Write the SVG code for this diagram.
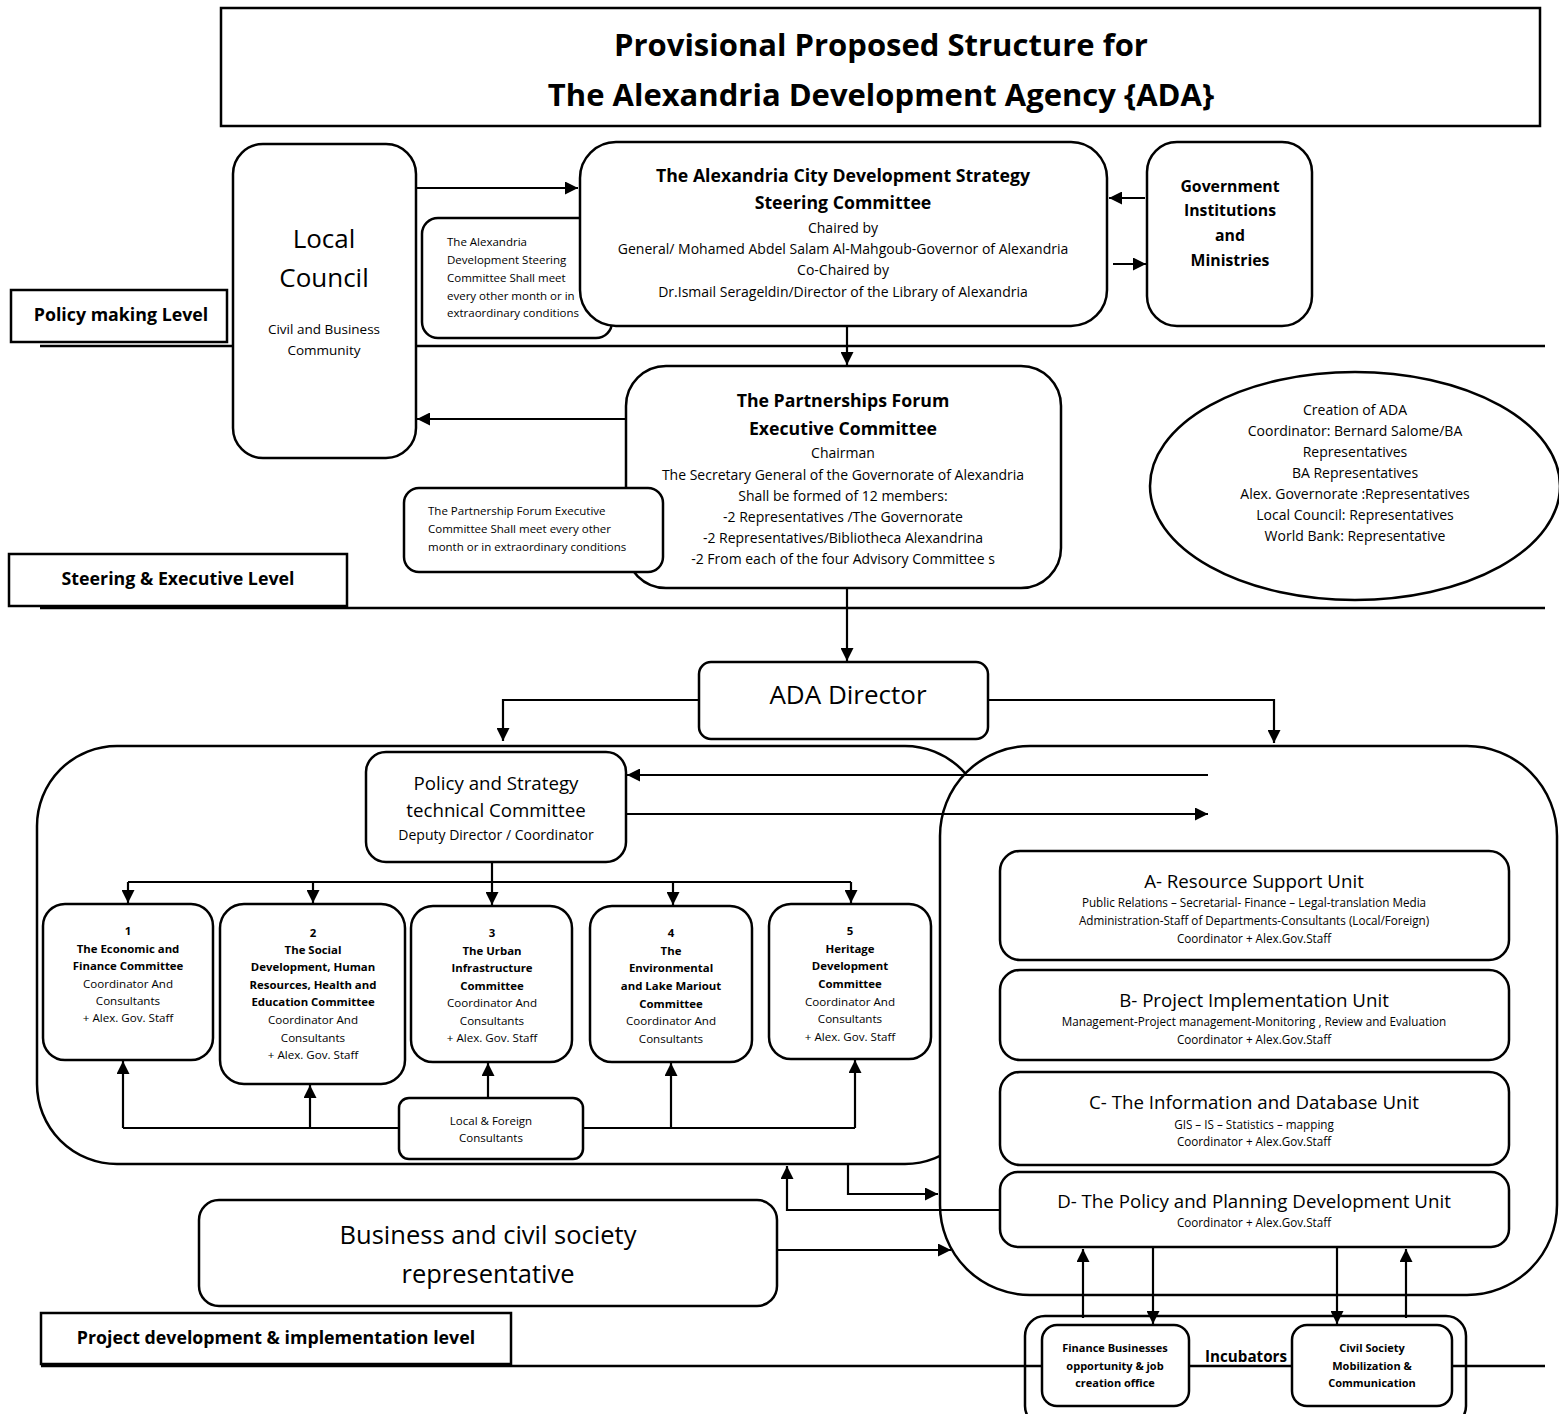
<svg xmlns="http://www.w3.org/2000/svg" width="1559" height="1414" viewBox="0 0 1559 1414">
  <defs>
    <marker id="arrow" viewBox="0 0 10 10" refX="10" refY="5" markerWidth="13" markerHeight="13" markerUnits="userSpaceOnUse" orient="auto">
      <path d="M0,0 L10,5 L0,10 z" fill="#000"/>
    </marker>
    <style>
      .box { fill: #fff; stroke: #000; stroke-width: 2.5; }
      .open { fill: none; stroke: #000; stroke-width: 2.5; }
      .level { stroke: #000; stroke-width: 2.5; fill: none; }
      .conn { fill: none; stroke: #000; stroke-width: 2.2; }
      .conn-a { fill: none; stroke: #000; stroke-width: 2.2; marker-end: url(#arrow); }
      text { font-family: "Open Sans", "Liberation Sans", sans-serif; fill: #000; text-anchor: middle; }
      .title { font-size: 31px; font-weight: bold; }
      .hb { font-size: 17.7px; font-weight: bold; }
      .body { font-size: 14px; }
      .note { font-size: 11.5px; text-anchor: start; }
      .lvl { font-size: 17.8px; font-weight: bold; }
      .big { font-size: 26px; }
      .cb { font-size: 11.4px; font-weight: bold; }
      .cn { font-size: 11.6px; }
      .unit { font-size: 18.7px; }
      .us { font-size: 11.7px; }
      .inc { font-size: 11px; font-weight: bold; }
      .ell { font-size: 14px; }
    </style>
  </defs>

  <!-- level separator lines -->
  <g id="levels">
    <line class="level" x1="40" y1="346" x2="1545" y2="346"/>
    <line class="level" x1="40" y1="608" x2="1545" y2="608"/>
    <line class="level" x1="41" y1="1366" x2="1545" y2="1366"/>
  </g>

  <g id="title">
    <rect x="221" y="8" width="1319" height="118" fill="#fff" stroke="#000" stroke-width="2.5"/>
    <text class="title" x="881" y="56">Provisional Proposed Structure for</text>
    <text class="title" x="881" y="106">The Alexandria Development Agency {ADA}</text>
  </g>

  <g id="label-policy">
    <rect x="11" y="290" width="216" height="52" class="box"/>
    <text class="lvl" x="121" y="321">Policy making Level</text>
  </g>
  <g id="label-steering">
    <rect x="9" y="554" width="338" height="52" class="box"/>
    <text class="lvl" x="178" y="585">Steering &amp; Executive Level</text>
  </g>
  <g id="label-project">
    <rect x="41" y="1313" width="470" height="51" class="box"/>
    <text class="lvl" x="276" y="1344">Project development &amp; implementation level</text>
  </g>

  <g id="local-council">
    <rect x="233" y="144" width="183" height="314" rx="30" class="box"/>
    <text class="big" x="324" y="248">Local</text>
    <text class="big" x="324" y="287">Council</text>
    <text style="font-size:13.5px" x="324" y="334">Civil and Business</text>
    <text style="font-size:13.5px" x="324" y="355">Community</text>
  </g>

  <g id="steering-note">
    <rect x="422" y="218" width="190" height="120" rx="16" class="box"/>
    <text class="note" x="447" y="246">The Alexandria</text>
    <text class="note" x="447" y="264">Development Steering</text>
    <text class="note" x="447" y="282">Committee Shall meet</text>
    <text class="note" x="447" y="300">every other month or in</text>
    <text class="note" x="447" y="317">extraordinary conditions</text>
  </g>

  <g id="steering-committee">
    <rect x="580" y="142" width="527" height="184" rx="36" class="box"/>
    <text class="hb" x="843" y="182">The Alexandria City Development Strategy</text>
    <text class="hb" x="843" y="209">Steering Committee</text>
    <text class="body" x="843" y="233">Chaired by</text>
    <text class="body" x="843" y="254">General/ Mohamed Abdel Salam Al-Mahgoub-Governor of Alexandria</text>
    <text class="body" x="843" y="275">Co-Chaired by</text>
    <text class="body" x="843" y="297">Dr.Ismail Serageldin/Director of the Library of Alexandria</text>
  </g>

  <g id="government">
    <rect x="1147" y="142" width="165" height="184" rx="30" class="box"/>
    <text class="hb" style="font-size:15.8px" x="1230" y="192">Government</text>
    <text class="hb" style="font-size:15.8px" x="1230" y="216">Institutions</text>
    <text class="hb" style="font-size:15.8px" x="1230" y="241">and</text>
    <text class="hb" style="font-size:15.8px" x="1230" y="266">Ministries</text>
  </g>

  <g id="partnerships-forum">
    <rect x="626" y="366" width="435" height="222" rx="40" class="box"/>
    <text class="hb" x="843" y="407">The Partnerships Forum</text>
    <text class="hb" x="843" y="435">Executive Committee</text>
    <text class="body" x="843" y="458">Chairman</text>
    <text class="body" x="843" y="480">The Secretary General of the Governorate of Alexandria</text>
    <text class="body" x="843" y="501">Shall be formed of 12 members:</text>
    <text class="body" x="843" y="522">-2 Representatives /The Governorate</text>
    <text class="body" x="843" y="543">-2 Representatives/Bibliotheca Alexandrina</text>
    <text class="body" x="843" y="564">-2 From each of the four Advisory Committee s</text>
  </g>

  <g id="forum-note">
    <rect x="404" y="488" width="259" height="84" rx="15" class="box"/>
    <text class="note" x="428" y="515">The Partnership Forum Executive</text>
    <text class="note" x="428" y="533">Committee Shall meet every other</text>
    <text class="note" x="428" y="551">month or in extraordinary conditions</text>
  </g>

  <g id="creation-of-ada">
    <ellipse cx="1355" cy="486" rx="205" ry="114" class="box"/>
    <text class="ell" x="1355" y="415">Creation of ADA</text>
    <text class="ell" x="1355" y="436">Coordinator: Bernard Salome/BA</text>
    <text class="ell" x="1355" y="457">Representatives</text>
    <text class="ell" x="1355" y="478">BA Representatives</text>
    <text class="ell" x="1355" y="499">Alex. Governorate :Representatives</text>
    <text class="ell" x="1355" y="520">Local Council: Representatives</text>
    <text class="ell" x="1355" y="541">World Bank: Representative</text>
  </g>

  <g id="ada-director">
    <rect x="699" y="662" width="289" height="77" rx="12" class="box"/>
    <text style="font-size:26px" x="848" y="704">ADA Director</text>
  </g>

  <!-- committees container and units container -->
  <g id="committees-area">
    <rect x="37" y="746" width="948" height="418" rx="80" class="box"/>
  </g>
  <g id="units-area">
    <rect x="940" y="746" width="617" height="549" rx="90" class="box"/>
  </g>

  <g id="policy-strategy">
    <rect x="366" y="752" width="260" height="110" rx="20" class="box"/>
    <text style="font-size:18.7px" x="496" y="790">Policy and Strategy</text>
    <text style="font-size:18.7px" x="496" y="817">technical Committee</text>
    <text style="font-size:14px" x="496" y="840">Deputy Director / Coordinator</text>
  </g>

  <g id="committee-1">
    <rect x="43" y="904" width="170" height="156" rx="22" class="box"/>
    <text class="cb" x="128" y="935">1</text>
    <text class="cb" x="128" y="953">The Economic and</text>
    <text class="cb" x="128" y="970">Finance Committee</text>
    <text class="cn" x="128" y="988">Coordinator And</text>
    <text class="cn" x="128" y="1005">Consultants</text>
    <text class="cn" x="128" y="1022">+ Alex. Gov. Staff</text>
  </g>
  <g id="committee-2">
    <rect x="220" y="904" width="185" height="180" rx="24" class="box"/>
    <text class="cb" x="313" y="937">2</text>
    <text class="cb" x="313" y="954">The Social</text>
    <text class="cb" x="313" y="971">Development, Human</text>
    <text class="cb" x="313" y="989">Resources, Health and</text>
    <text class="cb" x="313" y="1006">Education Committee</text>
    <text class="cn" x="313" y="1024">Coordinator And</text>
    <text class="cn" x="313" y="1042">Consultants</text>
    <text class="cn" x="313" y="1059">+ Alex. Gov. Staff</text>
  </g>
  <g id="committee-3">
    <rect x="411" y="906" width="161" height="156" rx="22" class="box"/>
    <text class="cb" x="492" y="937">3</text>
    <text class="cb" x="492" y="955">The Urban</text>
    <text class="cb" x="492" y="972">Infrastructure</text>
    <text class="cb" x="492" y="990">Committee</text>
    <text class="cn" x="492" y="1007">Coordinator And</text>
    <text class="cn" x="492" y="1025">Consultants</text>
    <text class="cn" x="492" y="1042">+ Alex. Gov. Staff</text>
  </g>
  <g id="committee-4">
    <rect x="590" y="906" width="162" height="156" rx="22" class="box"/>
    <text class="cb" x="671" y="937">4</text>
    <text class="cb" x="671" y="955">The</text>
    <text class="cb" x="671" y="972">Environmental</text>
    <text class="cb" x="671" y="990">and Lake Mariout</text>
    <text class="cb" x="671" y="1008">Committee</text>
    <text class="cn" x="671" y="1025">Coordinator And</text>
    <text class="cn" x="671" y="1043">Consultants</text>
  </g>
  <g id="committee-5">
    <rect x="769" y="904" width="162" height="155" rx="22" class="box"/>
    <text class="cb" x="850" y="935">5</text>
    <text class="cb" x="850" y="953">Heritage</text>
    <text class="cb" x="850" y="970">Development</text>
    <text class="cb" x="850" y="988">Committee</text>
    <text class="cn" x="850" y="1006">Coordinator And</text>
    <text class="cn" x="850" y="1023">Consultants</text>
    <text class="cn" x="850" y="1041">+ Alex. Gov. Staff</text>
  </g>

  <g id="consultants">
    <rect x="399" y="1098" width="184" height="61" rx="10" class="box"/>
    <text style="font-size:11.5px" x="491" y="1125">Local &amp; Foreign</text>
    <text style="font-size:11.5px" x="491" y="1142">Consultants</text>
  </g>

  <g id="unit-a">
    <rect x="1000" y="851" width="509" height="109" rx="20" class="box"/>
    <text class="unit" x="1254" y="888">A- Resource Support Unit</text>
    <text class="us" x="1254" y="907">Public Relations – Secretarial- Finance – Legal-translation Media</text>
    <text class="us" x="1254" y="925">Administration-Staff of Departments-Consultants (Local/Foreign)</text>
    <text class="us" x="1254" y="943">Coordinator + Alex.Gov.Staff</text>
  </g>
  <g id="unit-b">
    <rect x="1000" y="970" width="509" height="90" rx="20" class="box"/>
    <text class="unit" x="1254" y="1007">B- Project Implementation Unit</text>
    <text class="us" x="1254" y="1026">Management-Project management-Monitoring , Review and Evaluation</text>
    <text class="us" x="1254" y="1044">Coordinator + Alex.Gov.Staff</text>
  </g>
  <g id="unit-c">
    <rect x="1000" y="1072" width="509" height="93" rx="20" class="box"/>
    <text class="unit" x="1254" y="1109">C- The Information and Database Unit</text>
    <text class="us" x="1254" y="1129">GIS – IS – Statistics – mapping</text>
    <text class="us" x="1254" y="1146">Coordinator + Alex.Gov.Staff</text>
  </g>
  <g id="unit-d">
    <rect x="1000" y="1172" width="509" height="75" rx="18" class="box"/>
    <text class="unit" x="1254" y="1208">D- The Policy and Planning Development Unit</text>
    <text class="us" x="1254" y="1227">Coordinator + Alex.Gov.Staff</text>
  </g>

  <g id="business-civil">
    <rect x="199" y="1200" width="578" height="106" rx="20" class="box"/>
    <text style="font-size:25.5px" x="488" y="1244">Business and civil society</text>
    <text style="font-size:25.5px" x="488" y="1283">representative</text>
  </g>

  <g id="incubators">
    <rect x="1025" y="1316" width="441" height="110" rx="20" class="open"/>
    <text style="font-size:15.2px; font-weight:bold" x="1246" y="1362">Incubators</text>
  </g>
  <g id="finance-office">
    <rect x="1042" y="1325" width="147" height="81" rx="15" class="box"/>
    <text class="inc" x="1115" y="1352">Finance Businesses</text>
    <text class="inc" x="1115" y="1370">opportunity &amp; job</text>
    <text class="inc" x="1115" y="1387">creation office</text>
  </g>
  <g id="civil-mobilization">
    <rect x="1292" y="1325" width="160" height="81" rx="15" class="box"/>
    <text class="inc" x="1372" y="1352">Civil Society</text>
    <text class="inc" x="1372" y="1370">Mobilization &amp;</text>
    <text class="inc" x="1372" y="1387">Communication</text>
  </g>

  <g id="connectors">
    <path class="conn-a" d="M416,188 H578"/>
    <path class="conn-a" d="M1145,198 H1109"/>
    <path class="conn-a" d="M1113,264 H1146"/>
    <path class="conn-a" d="M847,326 V365"/>
    <path class="conn-a" d="M626,419 H417"/>
    <path class="conn-a" d="M847,588 V661"/>
    <path class="conn-a" d="M699,700 H503 V741"/>
    <path class="conn-a" d="M988,700 H1274 V743"/>
    <path class="conn-a" d="M1208,775 H627"/>
    <path class="conn-a" d="M626,814 H1208"/>
    <!-- policy committee to the five committees -->
    <path class="conn" d="M492,862 V882 M128,882 H851"/>
    <path class="conn-a" d="M128,882 V903"/>
    <path class="conn-a" d="M313,882 V903"/>
    <path class="conn-a" d="M492,882 V905"/>
    <path class="conn-a" d="M673,882 V905"/>
    <path class="conn-a" d="M851,882 V903"/>
    <!-- consultants feeding the committees -->
    <path class="conn" d="M123,1128 H399 M583,1128 H855"/>
    <path class="conn-a" d="M123,1128 V1061"/>
    <path class="conn-a" d="M310,1128 V1085"/>
    <path class="conn-a" d="M488,1098 V1063"/>
    <path class="conn-a" d="M671,1128 V1063"/>
    <path class="conn-a" d="M855,1128 V1060"/>
    <!-- links between the two areas -->
    <path class="conn-a" d="M848,1165 V1194 H938"/>
    <path class="conn-a" d="M1000,1210 H787 V1166"/>
    <path class="conn-a" d="M777,1250 H951"/>
    <!-- policy unit and incubators -->
    <path class="conn-a" d="M1083,1318 V1249"/>
    <path class="conn-a" d="M1153,1248 V1324"/>
    <path class="conn-a" d="M1337,1248 V1324"/>
    <path class="conn-a" d="M1406,1318 V1249"/>
  </g>
</svg>
